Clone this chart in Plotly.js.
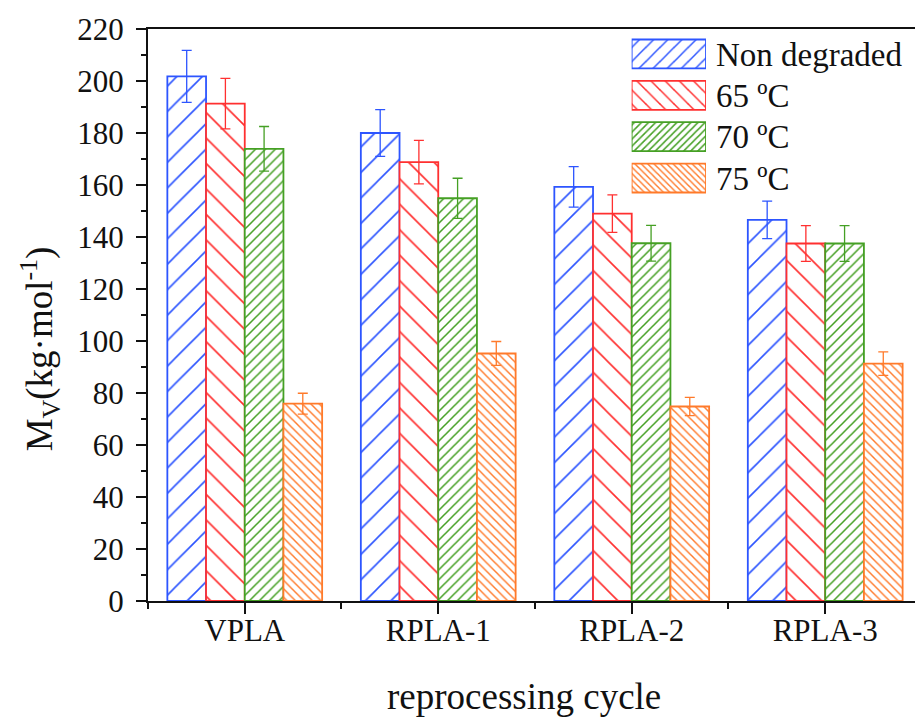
<!DOCTYPE html>
<html>
<head>
<meta charset="utf-8">
<script src="https://cdn.plot.ly/plotly-3.0.1.min.js"></script>
<style>html,body{margin:0;padding:0;background:#fff;}</style>
</head>
<body>
<div id="chart" style="width:915px;height:718px;"></div>
<script>
// ---- data ----
const categories = ['VPLA', 'RPLA-1', 'RPLA-2', 'RPLA-3'];
const seriesNames = ['Non degraded', '65 ºC', '70 ºC', '75 ºC'];
const nonDegraded = [201.8, 180.0, 159.3, 146.6];
const nonDegradedErr = [10.0, 9.0, 7.8, 7.2];
const deg65 = [191.3, 168.8, 149.0, 137.5];
const deg65Err = [9.7, 8.4, 7.2, 6.9];
const deg70 = [173.9, 154.9, 137.6, 137.5];
const deg70Err = [8.6, 7.7, 6.9, 6.9];
const deg75 = [75.9, 95.2, 74.8, 91.3];
const deg75Err = [4.0, 4.6, 3.5, 4.5];
const yTicks = [0, 20, 40, 60, 80, 100, 120, 140, 160, 180, 200, 220];
const yTitle = 'M<sub>V</sub>(kg·mol<sup>-1</sup>)';
const xTitle = 'reprocessing cycle';

// ---- styles ----
const colors = ['#2d55ff', '#ff3030', '#45a024', '#ff7a2a'];
const shapes = ['/', '\\', '/', '\\'];
const barPatSize = [18, 18, 7, 6];
const barPatSolid = [0.09, 0.09, 0.22, 0.24];
const legPatSize = [10, 10, 5, 4.5];
const legPatSolid = [0.15, 0.15, 0.3, 0.32];

const values = [nonDegraded, deg65, deg70, deg75];
const errors = [nonDegradedErr, deg65Err, deg70Err, deg75Err];
const xIdx = categories.map((c, i) => i);

const traces = [];
seriesNames.forEach((name, s) => {
  traces.push({
    type: 'bar',
    name: name,
    x: xIdx,
    y: values[s],
    error_y: {type: 'data', array: errors[s], visible: true, color: colors[s], thickness: 1.3, width: 5},
    marker: {
      color: 'white',
      line: {color: colors[s], width: 1.8},
      pattern: {shape: shapes[s], fgcolor: colors[s], bgcolor: 'white', size: barPatSize[s], solidity: barPatSolid[s]}
    },
    showlegend: false,
    hoverinfo: 'skip'
  });
});
// legend boxes drawn as a tiny bar subplot
seriesNames.forEach((name, s) => {
  traces.push({
    type: 'bar',
    orientation: 'h',
    x: [1],
    y: [name],
    xaxis: 'x2',
    yaxis: 'y2',
    width: 0.7,
    marker: {
      color: 'white',
      line: {color: colors[s], width: 1.8},
      pattern: {shape: shapes[s], fgcolor: colors[s], bgcolor: 'white', size: legPatSize[s], solidity: legPatSolid[s]}
    },
    showlegend: false,
    hoverinfo: 'skip'
  });
});

const layout = {
  width: 915,
  height: 718,
  margin: {l: 148, r: 0, t: 29, b: 117},
  paper_bgcolor: 'white',
  plot_bgcolor: 'white',
  font: {family: 'Liberation Serif, Times New Roman, serif', color: '#111'},
  barmode: 'group',
  bargap: 0.2,
  bargroupgap: 0,
  showlegend: false,
  xaxis: {
    range: [-0.5, 3.464],
    tickvals: xIdx,
    ticktext: categories,
    ticks: 'outside', ticklen: 11, tickwidth: 2, tickcolor: '#111',
    minor: {tick0: 0.5, dtick: 1, ticks: 'outside', ticklen: 6, tickwidth: 2, tickcolor: '#111'},
    showline: true, linewidth: 2, linecolor: '#111', mirror: true,
    showgrid: false, zeroline: false,
    tickfont: {size: 31},
    ticklabelstandoff: -10
  },
  yaxis: {
    range: [0, 220],
    tickvals: yTicks,
    ticks: 'outside', ticklen: 10, tickwidth: 2, tickcolor: '#111',
    minor: {dtick: 10, ticks: 'outside', ticklen: 5, tickwidth: 2, tickcolor: '#111'},
    showline: true, linewidth: 2, linecolor: '#111',
    showgrid: false, zeroline: false,
    tickfont: {size: 31},
    ticklabelstandoff: 6
  },
  xaxis2: {
    domain: [0.6306, 0.7275], anchor: 'y2', range: [0, 1],
    visible: false, fixedrange: true
  },
  yaxis2: {
    domain: [0.7033, 0.9925], anchor: 'x2', type: 'category',
    categoryorder: 'array', categoryarray: seriesNames,
    autorange: 'reversed', side: 'right',
    showline: false, showgrid: false, zeroline: false, ticks: '',
    tickfont: {size: 33}, ticklabelstandoff: 9, fixedrange: true
  },
  annotations: [
    {text: yTitle, xref: 'paper', yref: 'paper', x: -0.1408, y: 0.44, xanchor: 'center', yanchor: 'middle',
     textangle: -90, showarrow: false, font: {size: 37}},
    {text: xTitle, xref: 'paper', yref: 'paper', x: 0.490, y: -0.1676, xanchor: 'center', yanchor: 'middle',
     showarrow: false, font: {size: 37}}
  ]
};

Plotly.newPlot('chart', traces, layout, {displayModeBar: false, staticPlot: true});
</script>
</body>
</html>
